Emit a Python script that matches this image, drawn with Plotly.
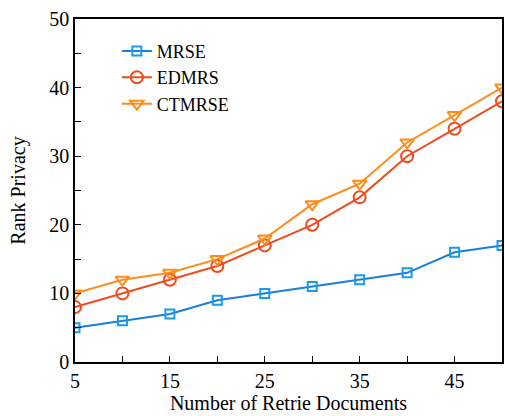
import plotly.graph_objects as go

x_docs = [5, 10, 15, 20, 25, 30, 35, 40, 45, 50]
mrse = [5, 6, 7, 9, 10, 11, 12, 13, 16, 17]
edmrs = [8, 10, 12, 14, 17, 20, 24, 30, 34, 38]
ctmrse = [10, 12, 13, 15, 18, 23, 26, 32, 36, 40]

x_tickvals = [5, 10, 15, 20, 25, 30, 35, 40, 45, 50]
x_ticktext = ["5", "", "15", "", "25", "", "35", "", "45", ""]
y_tickvals = [0, 5, 10, 15, 20, 25, 30, 35, 40, 45, 50]
y_ticktext = ["0", "", "10", "", "20", "", "30", "", "40", "", "50"]

font = "Liberation Serif, Times New Roman, serif"

fig = go.Figure()
fig.add_trace(go.Scatter(x=x_docs, y=mrse, name="MRSE", mode="lines+markers",
                         line=dict(color="#1a7fd8", width=2),
                         marker=dict(symbol="square-open", size=9, color="#1a9ae8", line=dict(width=2))))
fig.add_trace(go.Scatter(x=x_docs, y=edmrs, name="EDMRS", mode="lines+markers",
                         line=dict(color="#f04a1e", width=2),
                         marker=dict(symbol="circle-open", size=12, color="#f04a1e", line=dict(width=2))))
fig.add_trace(go.Scatter(x=x_docs, y=ctmrse, name="CTMRSE", mode="lines+markers",
                         line=dict(color="#ff8c1a", width=2),
                         marker=dict(symbol="triangle-down-open", size=12, color="#ff8c1a", line=dict(width=2))))

fig.update_layout(
    width=505, height=416,
    margin=dict(l=75, r=1, t=19, b=54),
    paper_bgcolor="white", plot_bgcolor="white",
    font=dict(family=font, size=20, color="black"),
    showlegend=True,
    legend=dict(x=0.098, y=0.96, xanchor="left", yanchor="top",
                bgcolor="rgba(0,0,0,0)", font=dict(size=18),
                tracegroupgap=0),
)
fig.update_xaxes(range=[5, 50], tickvals=x_tickvals, ticktext=x_ticktext,
                 ticks="inside", ticklen=6, tickcolor="black",
                 showline=True, linecolor="black", linewidth=1.5, mirror=True,
                 showgrid=False, zeroline=False,
                 title=dict(text="Number of Retrie Documents", standoff=4, font=dict(size=20)))
fig.update_yaxes(range=[0, 50], tickvals=y_tickvals, ticktext=y_ticktext,
                 ticks="inside", ticklen=6, tickcolor="black",
                 showline=True, linecolor="black", linewidth=1.5, mirror=True,
                 showgrid=False, zeroline=False,
                 title=dict(text="Rank Privacy", standoff=18, font=dict(size=20)))

fig.write_html("out.html", config={"displayModeBar": False},
               post_script="document.body.style.margin='0';document.body.style.overflow='hidden';")
